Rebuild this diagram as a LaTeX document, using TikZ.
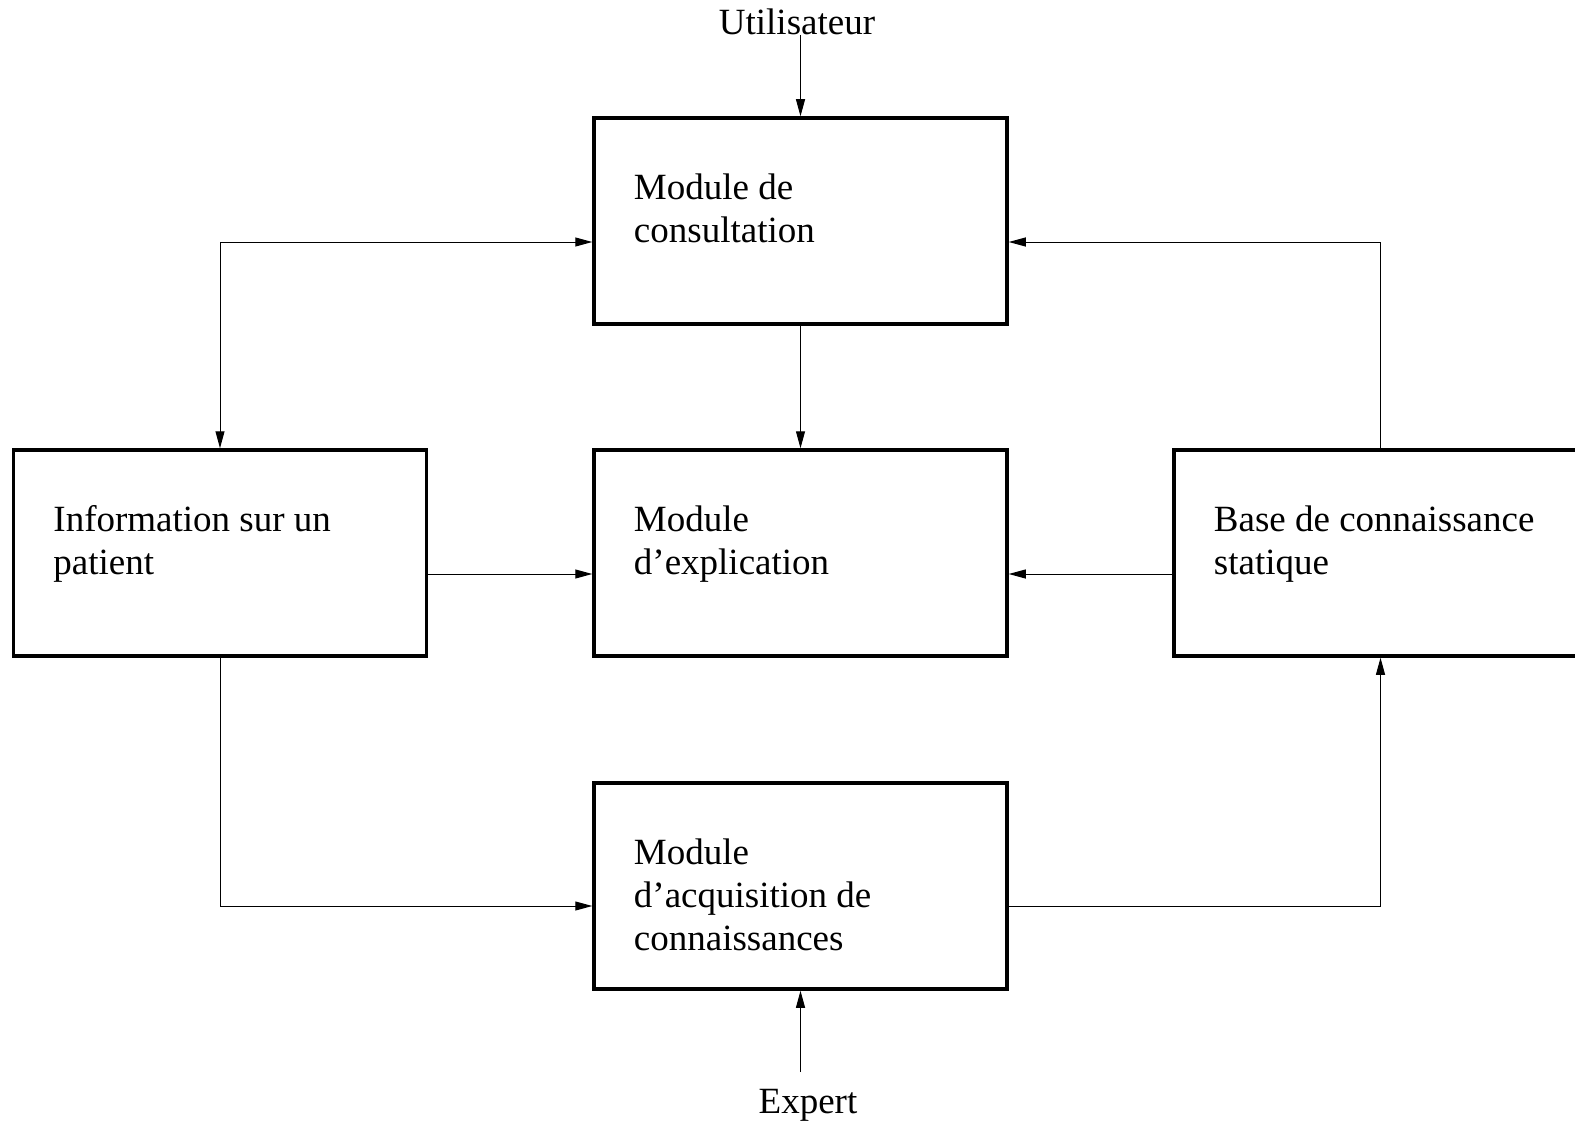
\documentclass[tikz,border=0pt]{standalone}
\usepackage{fontspec}
\setmainfont{Liberation Serif}
\usetikzlibrary{calc,arrows.meta}
\newcommand{\boxtext}[1]{\begin{tabular}[t]{@{}l@{}}#1\end{tabular}}
\begin{document}
\begin{tikzpicture}[x=1pt,y=-1pt,
  box/.style={draw,line width=3.5pt,minimum width=413pt,minimum height=206pt,inner sep=0pt},
  txt/.style={anchor=base west,inner sep=0pt,font=\fontsize{37}{43.3}\selectfont},
  lbl/.style={anchor=base,inner sep=0pt,font=\fontsize{37}{43.3}\selectfont},
  conn/.style={line width=1pt,-{Triangle[length=17pt,width=9pt]}},
  conn2/.style={line width=1pt,{Triangle[length=17pt,width=9pt]}-{Triangle[length=17pt,width=9pt]}}]
\useasboundingbox[fill=white] (0,0) rectangle (1575,1121);
\node[box] (top) at (800.5,221) {};
\node[box] (left) at (220,553) {};
\node[box] (mid) at (800.5,553) {};
\node[box] (right) at (1380.5,553) {};
\node[box] (bot) at (800.5,886) {};
\node[txt] (ttop) at ($(top.north west)+(41.5,83)$) {\boxtext{Module de\\consultation}};
\node[txt] (tleft) at ($(left.north west)+(41.5,83)$) {\boxtext{Information sur un\\patient}};
\node[txt] (tmid) at ($(mid.north west)+(41.5,83)$) {\boxtext{Module\\d’explication}};
\node[txt] (tright) at ($(right.north west)+(41.5,83)$) {\boxtext{Base de connaissance\\statique}};
\node[txt] (tbot) at ($(bot.north west)+(41.5,83)$) {\boxtext{Module\\d’acquisition de\\connaissances}};
\node[lbl] (user) at (797,35) {Utilisateur};
\node[lbl] (expert) at (808,1113) {Expert};
\coordinate (u) at (800.5,35);
\coordinate (e) at (800.5,1072);
\draw[conn] (u) -- (top.north);
\draw[conn] (e) -- (bot.south);
\draw[conn] (top.south) -- (mid.north);
\draw[conn2] (left.north) |- ($(top.west)+(0,21)$);
\draw[conn] (right.north) |- ($(top.east)+(0,21)$);
\draw[conn] ($(left.east)+(0,21)$) -- ($(mid.west)+(0,21)$);
\draw[conn] ($(right.west)+(0,21)$) -- ($(mid.east)+(0,21)$);
\draw[conn] (left.south) |- ($(bot.west)+(0,20)$);
\draw[conn] ($(bot.east)+(0,20)$) -| (right.south);
\end{tikzpicture}
\end{document}
